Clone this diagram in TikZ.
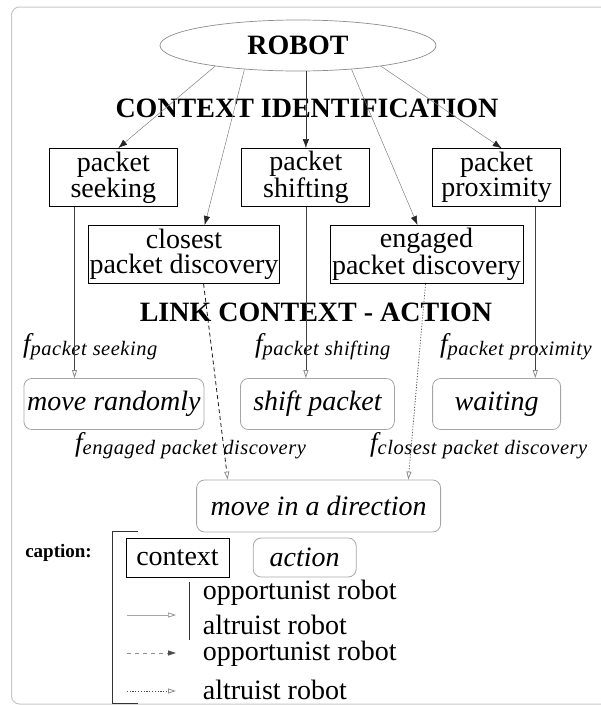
\documentclass[tikz,border=0pt]{standalone}
\usepackage{fontspec}
\setmainfont{Liberation Serif}
\usetikzlibrary{arrows.meta,shapes.geometric,calc}

% font sizes used in the figure
\newcommand\ftext{\fontsize{28pt}{25pt}\selectfont}
\newcommand\fbold{\fontsize{28pt}{28pt}\selectfont\bfseries}
\newcommand\fcap{\fontsize{19pt}{19pt}\selectfont\bfseries}
% weighting function label: large italic f with a lowered, slightly spaced italic index
\newcommand\flab[1]{{\fontsize{27pt}{27pt}\selectfont\itshape f}\raisebox{-3pt}{\fontsize{20.5pt}{20pt}\selectfont\itshape\addfontfeature{LetterSpace=2.5}#1}}
\newcommand\wsp{\hspace{6pt}}

\tikzset{
  ctx/.style={draw=black, line width=1pt, minimum height=58pt, inner sep=0pt,
              align=center, font=\ftext},
  act/.style={draw=black!35, line width=0.8pt, rounded corners=8pt, minimum height=51pt,
              inner sep=0pt, font=\ftext\itshape},
  heading/.style={font=\fbold, inner sep=0pt},
  flabel/.style={anchor=base west, inner sep=0pt},
  robarrow/.style={draw=black!50, line width=0.5pt, -{Latex[length=9pt,width=6.5pt,black!85]}},
  linkarrow/.style={draw=black!75, line width=0.8pt,
                    -{Triangle[open,length=8pt,width=5pt,black!45]}},
  opparrow/.style={draw=black!90, line width=0.8pt, dash pattern=on 4pt off 3pt,
                   -{Triangle[open,length=8pt,width=5pt,black!45]}},
  altarrow/.style={draw=black!65, line width=0.8pt, dash pattern=on 1.2pt off 1.6pt,
                   -{Triangle[open,length=8pt,width=5pt,black!45]}},
  legsolid/.style={draw=black!35, line width=0.7pt,
                   -{Triangle[open,length=8pt,width=5pt,black!45]}},
  legdash/.style={draw=black!45, line width=0.8pt, dash pattern=on 4pt off 4pt,
                  -{Triangle[length=8pt,width=5pt,black!70]}},
  legdot/.style={draw=black!70, line width=0.8pt, dash pattern=on 1.2pt off 1.6pt,
                 -{Triangle[open,length=8pt,width=5pt,black!45]}},
  legtext/.style={anchor=west, inner sep=0pt, font=\ftext},
}

\begin{document}
\begin{tikzpicture}[x=1pt,y=-1pt]
\clip (0,0) rectangle (601,705);

% outer frame
\draw[black!22, line width=1pt, rounded corners=8pt] (11.5,7) rectangle (660,704);

% root
\node[ellipse, draw=black!45, line width=0.7pt, minimum width=276pt, minimum height=51pt,
      inner sep=0pt, font=\fbold] (robot) at (298,45.5) {ROBOT};

\node[heading] (ctxid) at (307,108) {CONTEXT IDENTIFICATION};

% contexts
\node[ctx, minimum width=128pt] (seek)  at (113.3,177.5) {packet\\seeking};
\node[ctx, minimum width=128pt] (shift) at (305.9,177.5) {packet\\shifting};
\node[ctx, minimum width=128pt] (prox)  at (496.6,177.8) {packet\\proximity};
\node[ctx, minimum width=191pt] (closest) at (184,254.5) {closest\\packet discovery};
\node[ctx, minimum width=193pt] (engaged) at (426.5,254.5) {engaged\\packet discovery};

\node[heading] (link) at (316,312) {LINK CONTEXT - ACTION};

% actions
\node[act, minimum width=180pt] (moverand) at (113.9,404)  {move randomly};
\node[act, minimum width=154pt] (shiftp)   at (317.4,404)  {shift packet};
\node[act, minimum width=128pt] (waiting)  at (496.6,404)  {waiting};
\node[act, minimum width=244pt, minimum height=52pt] (movedir) at (318.6,506) {move in a direction};

% weighting labels
\node[flabel] (fseek)  at (23,352.5)  {\flab{packet\wsp seeking}};
\node[flabel] (fshift) at (255,352.5) {\flab{packet\wsp shif\kern1pt ting}};
\node[flabel] (fprox)  at (440,352.5) {\flab{packet\wsp proximity}};
\node[flabel] (feng)   at (75,451)    {\flab{engaged\wsp packet\wsp discovery}};
\node[flabel] (fclo)   at (370,451)   {\flab{closest\wsp packet\wsp discovery}};

% robot -> contexts
\draw[robarrow] (robot.194.5) -- ([xshift=5pt]seek.north);
\draw[robarrow] (robot.204.8) -- ([xshift=20.7pt]closest.north);
\draw[robarrow, draw=black!80] (robot.south -| shift.north) -- (shift.north);
\draw[robarrow] (robot.336) -- ([xshift=-9pt]engaged.north);
\draw[robarrow] (robot.346.6) -- ([xshift=5.1pt]prox.north);

% contexts -> actions
\draw[linkarrow] ([xshift=-38.8pt]seek.south) -- ([xshift=-39.4pt]moverand.north);
\draw[linkarrow] (shift.south) -- ([xshift=-11.5pt]shiftp.north);
\draw[linkarrow] ([xshift=38.7pt]prox.south) -- ([xshift=38.7pt]waiting.north);
\draw[opparrow] ([xshift=19.6pt]closest.south) -- ([xshift=-90.9pt]movedir.north);
\draw[altarrow] ([xshift=-1pt]engaged.south) -- ([xshift=89.7pt]movedir.north);

% caption
\node[font=\fcap, inner sep=0pt] (caption) at (58.5,553) {caption:};
\draw[black!80, line width=1pt] (138,531) -- (112.7,531) -- (112.7,703) -- (138,703);
\node[ctx, minimum width=103pt, minimum height=39pt] (legctx) at (177.5,557.5) {context};
\node[act, minimum width=103pt, minimum height=39pt] (legact) at (304.7,557.5) {action};

\draw[black!80, line width=1pt] (189.3,582) -- (189.3,640);
\node[legtext] (opp1) at (202.7,593) {opportunist robot};
\node[legtext] (alt1) at (202.7,625) {altruist robot};
\node[legtext] (opp2) at (202.7,653.5) {opportunist robot};
\node[legtext] (alt2) at (202.7,689.5) {altruist robot};

\coordinate (s1) at (126.7,615); \coordinate (e1) at (176,615);
\coordinate (s2) at (126.7,653); \coordinate (e2) at (176,653);
\coordinate (s3) at (126.7,691); \coordinate (e3) at (176,691);
\draw[legsolid] (s1) -- (e1);
\draw[legdash] (s2) -- (e2);
\draw[legdot] (s3) -- (e3);
\end{tikzpicture}
\end{document}
